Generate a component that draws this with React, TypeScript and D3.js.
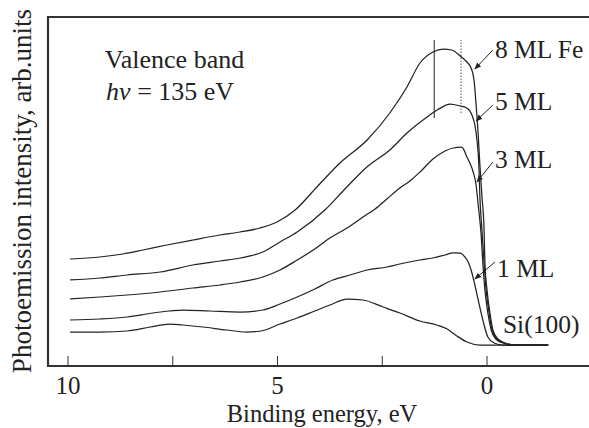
import React from 'react';
import * as d3 from 'd3';

// Binding energy (eV) and intensity (arb. units)
const si100: [number, number][] = [
  [9.95, 1.3], [9.24, 1.3], [8.59, 1.4], [8.04, 1.8], [7.57, 2.1], [7.26, 2.0],
  [6.78, 1.8], [6.21, 1.5], [5.75, 1.3], [5.4, 1.4], [4.94, 2.1], [4.53, 2.7],
  [4.11, 3.4], [3.75, 4.0], [3.34, 4.6], [2.96, 4.5], [2.48, 3.8], [2.08, 3.2],
  [1.6, 2.4], [1.2, 2.0], [0.95, 1.6], [0.72, 0.9], [0.48, 0.3], [0.17, 0.0], [-1.46, 0.0],
];

const ml1: [number, number][] = [
  [9.95, 2.5], [9.24, 2.6], [8.59, 2.8], [7.97, 3.2], [7.57, 3.4], [7.26, 3.5],
  [6.61, 3.4], [5.89, 3.3], [5.35, 3.5], [4.94, 4.1], [4.53, 4.8], [4.11, 5.6],
  [3.68, 6.5], [3.27, 7.0], [2.86, 7.5], [2.39, 7.8], [2.08, 8.1], [1.6, 8.5],
  [1.29, 8.7], [1.0, 9.0], [0.81, 9.2], [0.64, 9.2], [0.53, 8.8], [0.45, 8.3],
  [0.38, 7.5], [0.29, 6.0], [0.21, 4.5], [0.14, 3.2], [0.07, 2.0], [-0.02, 0.8],
  [-0.17, 0.2], [-0.38, 0.0], [-1.46, 0.0],
];

const ml3: [number, number][] = [
  [9.95, 4.6], [9.24, 4.8], [8.59, 5.0], [7.8, 5.3], [7.02, 5.7], [6.37, 6.0],
  [5.89, 6.3], [5.35, 6.8], [4.94, 7.5], [4.53, 8.5], [4.11, 9.6], [3.75, 10.7],
  [3.34, 11.7], [2.96, 12.8], [2.67, 13.6], [2.39, 14.6], [2.08, 15.7], [1.84, 16.4],
  [1.6, 17.3], [1.29, 18.6], [1.0, 19.4], [0.81, 19.7], [0.6, 19.8], [0.48, 18.8],
  [0.41, 18.2], [0.33, 17.3], [0.26, 16.0], [0.21, 14.0], [0.14, 11.0], [0.1, 8.2],
  [0.05, 5.5], [-0.02, 3.2], [-0.1, 1.5], [-0.21, 0.6], [-0.38, 0.2], [-0.62, 0.0],
  [-1.46, 0.0],
];

const ml5: [number, number][] = [
  [9.95, 6.5], [9.24, 6.7], [8.59, 7.0], [7.8, 7.3], [7.02, 8.0], [6.37, 8.4],
  [5.89, 8.7], [5.35, 9.3], [4.94, 10.3], [4.53, 11.3], [3.87, 13.5], [3.39, 15.6],
  [2.84, 17.9], [2.32, 19.5], [1.91, 21.2], [1.43, 22.8], [1.19, 23.5], [0.88, 24.1],
  [0.64, 23.9], [0.48, 23.7], [0.36, 23.0], [0.29, 22.0], [0.24, 20.5], [0.19, 17.5],
  [0.17, 14.8], [0.12, 11.5], [0.07, 8.2], [0.02, 5.5], [-0.05, 3.2], [-0.12, 1.5],
  [-0.24, 0.6], [-0.41, 0.2], [-0.64, 0.0], [-1.46, 0.0],
];

const ml8: [number, number][] = [
  [9.95, 8.6], [9.24, 8.8], [8.69, 9.1], [8.21, 9.5], [7.64, 10.0], [7.02, 10.5],
  [6.37, 11.0], [5.89, 11.3], [5.42, 11.7], [5.01, 12.3], [4.58, 13.5], [4.06, 15.8],
  [3.51, 18.2], [2.86, 20.5], [2.32, 23.2], [1.91, 25.8], [1.6, 28.2], [1.29, 29.3],
  [1.05, 29.6], [0.84, 29.5], [0.64, 28.9], [0.48, 28.3], [0.38, 27.7], [0.31, 26.5],
  [0.26, 24.0], [0.21, 21.0], [0.17, 18.0], [0.12, 14.8], [0.07, 11.5], [0.05, 8.2],
  [0.0, 5.5], [-0.07, 3.2], [-0.14, 1.5], [-0.26, 0.6], [-0.43, 0.2], [-0.67, 0.0],
  [-1.46, 0.0],
];

const series = [si100, ml1, ml3, ml5, ml8];

const xTicks = [10, 7.5, 5, 2.5, 0];
const xTickLabels = ['10', '', '5', '', '0'];

// curve labels: text, anchor (eV, I), arrow from -> to (eV, I)
const labels = ['8 ML Fe', '5 ML', '3 ML', '1 ML', 'Si(100)'];
const labelPos: [number, number][] = [[-0.19, 28.7], [-0.19, 23.5], [-0.19, 17.7], [-0.24, 6.8], [-0.38, 1.2]];
const arrows: ([number, number, number, number] | null)[] = [
  [-0.14, 29.5, 0.29, 27.6],
  [-0.14, 24.0, 0.26, 22.4],
  [-0.14, 18.3, 0.24, 16.3],
  [-0.19, 8.3, 0.29, 6.6],
  null,
];

// peak markers: eV, bottom, top
const markers: [number, number, number][] = [[1.26, 22.7, 30.5], [0.62, 23.2, 30.5]];

const W = 589;
const H = 428;
const font = '"Liberation Serif", "Times New Roman", serif';
const ink = '#222';

export default function App() {
  const x = d3.scaleLinear().domain([10.477, -2.434]).range([48, 589]);
  const y = d3.scaleLinear().domain([-2.1, 32.8]).range([366, 17]);
  const line = d3.line<[number, number]>()
    .x(d => x(d[0]))
    .y(d => y(d[1]))
    .curve(d3.curveMonotoneX);

  const [x0, x1] = x.range();
  const [yb, yt] = y.range();

  return (
    <svg width={W} height={H} style={{ position: 'fixed', left: 0, top: 0, background: '#fff' }}
      fontFamily={font} fill={ink}>
      <defs>
        <marker id="ah" viewBox="0 0 10 10" refX="9" refY="5" markerWidth="7" markerHeight="7"
          orient="auto" markerUnits="userSpaceOnUse">
          <path d="M0,1 L10,5 L0,9 Z" fill={ink} />
        </marker>
      </defs>

      {series.map((s, i) => (
        <path key={i} d={line(s) ?? ''} fill="none" stroke={ink} strokeWidth={1.25} />
      ))}

      {markers.map((m, i) => (
        <line key={i} x1={x(m[0])} x2={x(m[0])} y1={y(m[1])} y2={y(m[2])}
          stroke={ink} strokeWidth={i === 0 ? 1 : 0.8} strokeDasharray={i === 0 ? undefined : '1.5,1.5'} />
      ))}

      {/* frame */}
      <path d={`M${x1 + 2},${yt} H${x0} V${yb} H${x1 + 2}`} fill="none" stroke="#333" strokeWidth={2.2} />
      {xTicks.map((t, i) => (
        <g key={t}>
          <line x1={x(t)} x2={x(t)} y1={yb} y2={yb - 10} stroke="#333" strokeWidth={1} />
          <text x={x(t)} y={394} fontSize={25} textAnchor="middle">{xTickLabels[i]}</text>
        </g>
      ))}
      <text x={322} y={422} fontSize={24.5} textAnchor="middle">Binding energy, eV</text>
      <text transform="translate(31,191) rotate(-90)" fontSize={27} textAnchor="middle">
        Photoemission intensity, arb.units
      </text>

      <text x={x(9.12)} y={y(27.7)} fontSize={26}>Valence band</text>
      <text x={x(9.09)} y={y(24.5)} fontSize={26}>
        <tspan fontStyle="italic">hν</tspan> = 135 eV
      </text>

      {labels.map((l, i) => (
        <text key={l} x={x(labelPos[i][0])} y={y(labelPos[i][1])} fontSize={25.5}>{l}</text>
      ))}
      {arrows.map((a, i) => a && (
        <line key={i} x1={x(a[0])} y1={y(a[1])} x2={x(a[2])} y2={y(a[3])}
          stroke={ink} strokeWidth={1} markerEnd="url(#ah)" />
      ))}
    </svg>
  );
}
